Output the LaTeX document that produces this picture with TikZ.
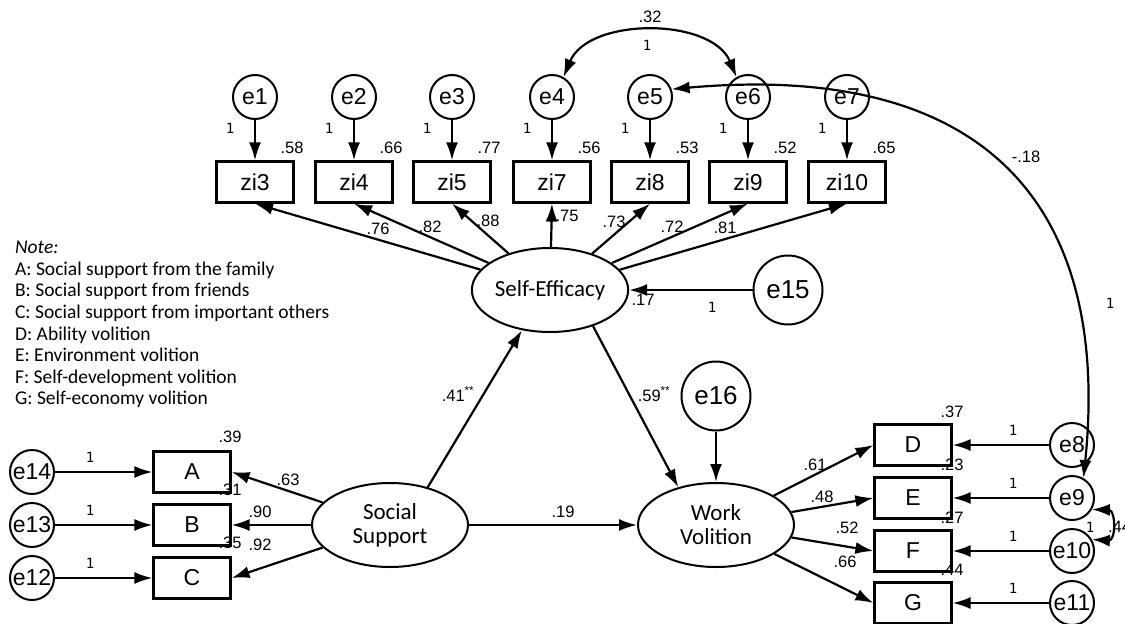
\documentclass[tikz,border=0pt]{standalone}
\usepackage{fontspec}
\setmainfont{Liberation Sans}
\newfontfamily\notefont{Carlito}
\newfontfamily\onefont{DejaVu Sans Mono}
\usetikzlibrary{arrows.meta,positioning,shapes.geometric}

\begin{document}
\begin{tikzpicture}[x=1pt,y=-1pt,line width=2.2pt,>={Latex[length=18pt,width=12pt]}]
\tikzstyle{every node}+=[inner sep=0pt]
\tikzstyle{obs}=[draw,line width=2.2pt,minimum width=77pt,minimum height=41pt,font=\fontsize{23}{26}\selectfont]
\tikzstyle{err}=[draw,circle,line width=2pt,minimum size=44pt,font=\fontsize{23}{26}\selectfont]
\tikzstyle{bigerr}=[err,minimum size=69pt,font=\fontsize{26}{28}\selectfont]
\tikzstyle{lat}=[draw,ellipse,line width=2pt,minimum width=156pt,minimum height=84pt,align=center,font=\notefont\fontsize{23}{24}\selectfont]
\tikzstyle{coef}=[font=\fontsize{16.5}{18}\selectfont]
\tikzstyle{one}=[font=\onefont\fontsize{14}{16}\selectfont]
\tikzstyle{notetext}=[anchor=base west,font=\notefont\fontsize{19.5}{21}\selectfont]
\useasboundingbox (0,0) rectangle (1125,624);

\foreach \t [count=\i] in {{\textit{Note:}},{A: Social support from the family},{B: Social support from friends},{C: Social support from important others},{D: Ability volition},{E: Environment volition},{F: Self-development volition},{G: Self-economy volition}}
  \node[notetext] (note\i) at (14,232+21.6*\i) {\t};

\foreach \x/\b/\e/\r in {255/zi3/e1/.58,354/zi4/e2/.66,452/zi5/e3/.77,552/zi7/e4/.56,650/zi8/e5/.53,748/zi9/e6/.52,847/zi10/e7/.65}{
  \node[obs] (\b) at (\x,182) {\b};
  \node[err] (\e) at (\x,97) {\e};
  \draw[->] (\e) -- (\b);
  \node[one] (one-\e) at (\x-25,128) {1};
  \node[coef] (r-\b) at (\x+37,148) {\r};
}

\node[lat] (se) at (550,290) {Self-Efficacy};
\node[lat] (ss) at (390,525) {Social\\Support};
\node[lat] (wv) at (716,525) {Work\\Volition};
\node[bigerr] (e15) at (788,290) {e15};
\node[bigerr] (e16) at (716,396) {e16};

\foreach \b/\l/\x/\y in {zi3/.76/378/229,zi4/.82/430/227,zi5/.88/488/221,zi7/.75/567/216,zi8/.73/614/222,zi9/.72/672/227,zi10/.81/725/228}{
  \draw[->] (se) -- (\b.south);
  \node[coef] (l-\b) at (\x,\y) {\l};
}

\foreach \b/\e/\y/\r in {A/e14/472/.39,B/e13/525/.31,C/e12/578/.35}{
  \node[obs] (\b) at (192,\y) {\b};
  \node[err] (\e) at (32,\y) {\e};
  \draw[->] (\e) -- (\b);
  \node[one] (one-\e) at (90,\y-15) {1};
  \node[coef] (r-\b) at (230,\y-35) {\r};
}
\foreach \b/\l/\x/\y in {A/.63/288/480,B/.90/260/512,C/.92/260/545}{
  \draw[->] (ss) -- (\b.east);
  \node[coef] (l-\b) at (\x,\y) {\l};
}

\foreach \b/\e/\y/\r in {D/e8/445/.37,E/e9/498/.23,F/e10/551/.27,G/e11/603/.44}{
  \node[obs] (\b) at (913,\y) {\b};
  \node[err] (\e) at (1072,\y) {\e};
  \draw[->] (\e) -- (\b);
  \node[one] (one-\e) at (1013,\y-15) {1};
  \node[coef] (r-\b) at (952,\y-33) {\r};
}
\foreach \b/\l/\x/\y in {D/.61/815/465,E/.48/822/497,F/.52/847/528,G/.66/845/562}{
  \draw[->] (wv) -- (\b.west);
  \node[coef] (l-\b) at (\x,\y) {\l};
}

\draw[->] (e15) -- (se);
\node[one] (one-e15) at (712,307) {1};
\node[coef] (r-se) at (643,300) {.17};
\draw[->] (e16) -- (wv);
\draw[->] (ss.45) -- (se.235);
\node[coef] (l-ssse) at (458,394) {.41\textsuperscript{**}};
\draw[->] (se.-40) -- (wv.135);
\node[coef] (l-sewv) at (654,394) {.59\textsuperscript{**}};
\draw[->] (ss) -- (wv);
\node[coef] (l-sswv) at (563,512) {.19};

\draw[<->] (e4.60) .. controls +(25,-60) and +(-25,-60) .. (e6.120);
\node[coef] (c46) at (650,17) {.32};
\node[one] (one-c46) at (647,45) {1};
\draw[<->] (e9.60) .. controls (1110,220) and (1000,60) .. (e5.20);
\node[coef] (c59) at (1026,157) {-.18};
\node[one] (one-c59) at (1110,303) {1};
\draw[<->] (e9.-30) .. controls (1116,510) and (1116,541) .. (e10.30);
\node[one] (one-c910) at (1090,527) {1};
\node[coef,anchor=west] (c910) at (1107,527) {.44};
\end{tikzpicture}
\end{document}
